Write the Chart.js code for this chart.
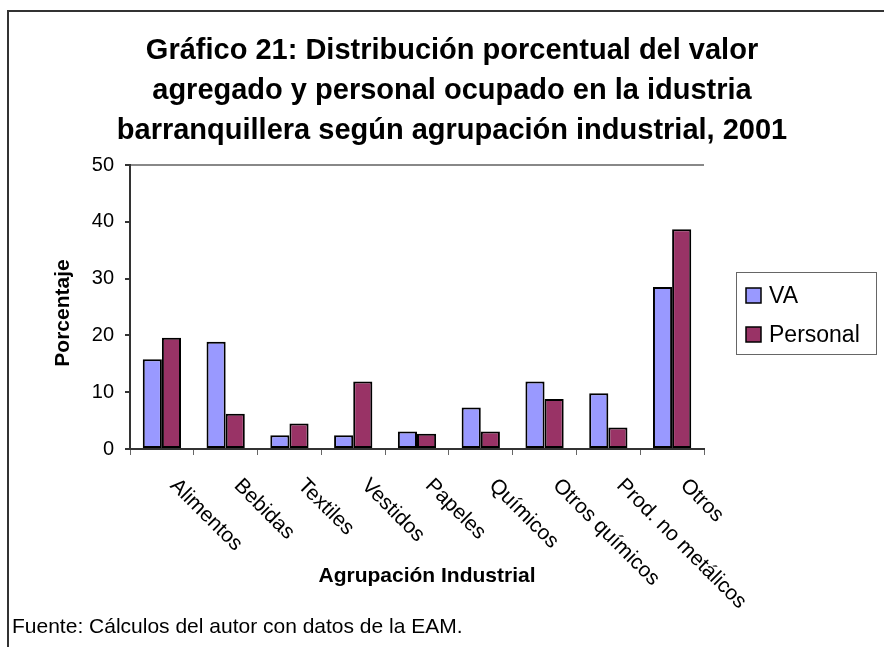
<!DOCTYPE html>
<html>
<head>
<meta charset="utf-8">
<script src="https://cdn.jsdelivr.net/npm/chart.js@4/dist/chart.umd.min.js"></script>
<style>
    body { margin: 0; background: #fff; }
    #wrap { width: 884px; height: 647px; position: relative; }
</style>
</head>
<body>
<div id="wrap"><canvas id="chart"></canvas></div>
<script>
// Chart data
const categories = ['Alimentos', 'Bebidas', 'Textiles', 'Vestidos', 'Papeles', 'Químicos', 'Otros químicos', 'Prod. no metálicos', 'Otros'];
const vaValues = [15.8, 18.9, 2.4, 2.4, 3.1, 7.3, 11.9, 9.8, 28.5];
const personalValues = [19.6, 6.2, 4.5, 11.9, 2.7, 3.1, 8.8, 3.8, 38.7];
const seriesNames = ['VA', 'Personal'];
const yTicks = [0, 10, 20, 30, 40, 50];

const titleLines = [
    'Gráfico 21: Distribución porcentual del valor',
    'agregado y personal ocupado en la idustria',
    'barranquillera según agrupación industrial, 2001'
];
const yTitle = 'Porcentaje';
const xTitle = 'Agrupación Industrial';
const footer = 'Fuente: Cálculos del autor con datos de la EAM.';

const FONT = 'Arial, "Liberation Sans", sans-serif';

// draws frame, titles, rotated category labels, legend and source note
const decorations = {
    id: 'decorations',
    afterDraw(chart) {
        const ctx = chart.ctx;
        const xScale = chart.scales.x;

        ctx.save();

        // outer frame (left and top only)
        ctx.strokeStyle = '#333';
        ctx.lineWidth = 2;
        ctx.beginPath();
        ctx.moveTo(8, 647);
        ctx.lineTo(8, 11);
        ctx.lineTo(884, 11);
        ctx.stroke();

        ctx.fillStyle = '#000';

        // title
        ctx.font = 'bold 29px ' + FONT;
        ctx.textAlign = 'center';
        ctx.textBaseline = 'middle';
        titleLines.forEach((line, i) => ctx.fillText(line, 452, 51 + i * 40));

        // y title
        ctx.save();
        ctx.translate(63, 313);
        ctx.rotate(-Math.PI / 2);
        ctx.font = 'bold 21px ' + FONT;
        ctx.fillText(yTitle, 0, 0);
        ctx.restore();

        // x title
        ctx.font = 'bold 21px ' + FONT;
        ctx.fillText(xTitle, 427, 576);

        // category labels, rotated 45deg clockwise
        ctx.font = '21px ' + FONT;
        ctx.textAlign = 'left';
        ctx.textBaseline = 'top';
        categories.forEach((label, i) => {
            const x = xScale.getPixelForValue(i);
            ctx.save();
            ctx.translate(x + 19, 475);
            ctx.rotate(Math.PI / 4);
            ctx.fillText(label, 0, 0);
            ctx.restore();
        });

        // legend
        ctx.strokeStyle = '#666';
        ctx.lineWidth = 1;
        ctx.strokeRect(736.5, 272.5, 140, 82);
        ctx.font = '23px ' + FONT;
        ctx.textBaseline = 'alphabetic';
        chart.data.datasets.forEach((ds, i) => {
            const y = 288 + i * 39;
            ctx.fillStyle = ds.backgroundColor;
            ctx.fillRect(746, y, 15, 15);
            ctx.strokeStyle = '#000';
            ctx.lineWidth = 1.5;
            ctx.strokeRect(746, y, 15, 15);
            ctx.fillStyle = '#000';
            ctx.fillText(ds.label, 769, y + 15);
        });

        // source note
        ctx.font = '21px ' + FONT;
        ctx.fillText(footer, 12, 633);

        ctx.restore();
    }
};

new Chart(document.getElementById('chart'), {
    type: 'bar',
    data: {
        labels: categories,
        datasets: [{
            label: seriesNames[0],
            data: vaValues,
            backgroundColor: '#9999FF',
            borderColor: '#000',
            borderWidth: 2,
            borderSkipped: false,
            categoryPercentage: 0.6,
            barPercentage: 1.0
        }, {
            label: seriesNames[1],
            data: personalValues,
            backgroundColor: '#993366',
            borderColor: '#000',
            borderWidth: 2,
            borderSkipped: false,
            categoryPercentage: 0.6,
            barPercentage: 1.0
        }]
    },
    options: {
        responsive: true,
        maintainAspectRatio: false,
        animation: false,
        layout: {
            padding: { left: 80, top: 165, right: 180, bottom: 188 }
        },
        plugins: {
            legend: { display: false },
            title: { display: false },
            tooltip: { enabled: false }
        },
        scales: {
            x: {
                ticks: { display: false },
                grid: {
                    offset: true,
                    color: 'transparent',
                    tickColor: '#666',
                    tickLength: 6
                },
                border: { color: '#333', width: 2 },
                afterFit: scale => { scale.height = 10; }
            },
            y: {
                min: 0,
                max: 50,
                afterBuildTicks: scale => {
                    scale.ticks = yTicks.map(v => ({ value: v }));
                },
                ticks: {
                    color: '#000',
                    font: { family: FONT, size: 20 },
                    padding: 11
                },
                grid: {
                    color: c => (c.tick && c.tick.value === 50 ? '#888' : 'transparent'),
                    lineWidth: 2,
                    tickColor: '#333',
                    tickLength: 5
                },
                border: { color: '#333', width: 2 },
                afterFit: scale => { scale.width = 50; }
            }
        }
    },
    plugins: [decorations]
});
</script>
</body>
</html>
